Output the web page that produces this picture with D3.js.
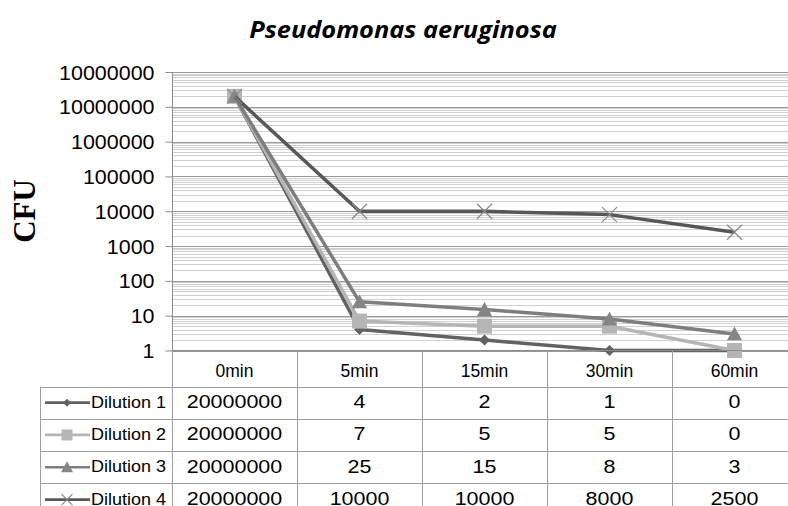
<!DOCTYPE html>
<html>
<head>
<meta charset="utf-8">
<script src="https://cdn.jsdelivr.net/npm/d3@7"></script>
<style>
  html, body { margin: 0; padding: 0; background: #fff; }
  svg { display: block; }
</style>
</head>
<body>
<div id="chart"></div>
<script>
const categories = ['0min', '5min', '15min', '30min', '60min'];
const seriesNames = ['Dilution 1', 'Dilution 2', 'Dilution 3', 'Dilution 4'];
const dilution1 = [20000000, 4, 2, 1, 0];
const dilution2 = [20000000, 7, 5, 5, 0];
const dilution3 = [20000000, 25, 15, 8, 3];
const dilution4 = [20000000, 10000, 10000, 8000, 2500];
const yTickValues = [1, 10, 100, 1000, 10000, 100000, 1000000, 10000000, 100000000];
const yTickLabels = ['1', '10', '100', '1000', '10000', '100000', '1000000', '10000000', '10000000'];

const width = 788, height = 506;
const plot = { left: 172, right: 797, top: 72, bottom: 350.5 };
const rowH = 32.3;
const sansFont = '"Liberation Sans", Arial, sans-serif';

const svg = d3.select('#chart').append('svg')
  .attr('width', width).attr('height', height);

// widen text a bit, the source image is stretched horizontally
const stretch = (sel, k) => sel.each(function() {
  const w = this.getComputedTextLength();
  d3.select(this).attr('textLength', w * k).attr('lengthAdjust', 'spacingAndGlyphs');
});

const x = d3.scaleBand().domain(categories).range([plot.left, plot.right]);
const y = d3.scaleLog().domain([1, 1e8]).range([plot.bottom, plot.top]);

// gridlines
const grid = svg.append('g');
y.ticks().forEach(t => {
  const major = yTickValues.includes(t);
  grid.append('line')
    .attr('x1', plot.left).attr('x2', plot.right)
    .attr('y1', Math.round(y(t)) + 0.5).attr('y2', Math.round(y(t)) + 0.5)
    .attr('stroke', major ? '#9a9a9a' : '#d0d0d0')
    .attr('stroke-width', 1);
});

// y axis
const yAxis = d3.axisLeft(y)
  .tickValues(yTickValues)
  .tickSize(7)
  .tickFormat((d, i) => yTickLabels[i]);

const axisG = svg.append('g')
  .attr('transform', `translate(${plot.left + 0.5},0)`)
  .call(yAxis);
axisG.select('.domain').attr('stroke', '#8c8c8c').attr('d', `M0,${plot.top}V${plot.bottom}`);
axisG.selectAll('.tick line').attr('stroke', '#8c8c8c');
axisG.selectAll('.tick text')
  .attr('x', -18)
  .attr('dy', '0.36em')
  .attr('fill', '#000')
  .style('font-family', sansFont)
  .style('font-size', '19.5px')
  .call(stretch, 1.1);

// title + axis title
svg.append('text')
  .attr('x', 403).attr('y', 38)
  .attr('text-anchor', 'middle')
  .style('font-family', '"Open Sans", sans-serif')
  .style('font-weight', 'bold').style('font-style', 'italic')
  .style('font-size', '23.5px')
  .text('Pseudomonas aeruginosa')
  .call(stretch, 1.08);

svg.append('text')
  .attr('transform', 'translate(35,211) rotate(-90)')
  .attr('text-anchor', 'middle')
  .style('font-family', '"Liberation Serif", "Times New Roman", serif')
  .style('font-weight', 'bold')
  .style('font-size', '31px')
  .text('CFU');

// series
const series = [
  { name: seriesNames[0], values: dilution1, color: '#626262', marker: 'diamond', size: 11, key: 8, mColor: '#626262' },
  { name: seriesNames[1], values: dilution2, color: '#b5b5b5', marker: 'square', size: 15, key: 11, mColor: '#b5b5b5' },
  { name: seriesNames[2], values: dilution3, color: '#7e7e7e', marker: 'triangle', size: 15, key: 12, mColor: '#858585' },
  { name: seriesNames[3], values: dilution4, color: '#575757', marker: 'x', size: 15, key: 11, mColor: '#8a8a8a' },
];

const floorVal = v => Math.max(v, y.domain()[0]);
const line = d3.line()
  .x((d, i) => x(categories[i]) + x.bandwidth() / 2)
  .y(d => y(floorVal(d)));

const drawMarker = (g, type, cx, cy, s, color) => {
  const h = s / 2;
  if (type === 'diamond') {
    g.append('path').attr('d', `M${cx},${cy - h}L${cx + h},${cy}L${cx},${cy + h}L${cx - h},${cy}Z`).attr('fill', color);
  } else if (type === 'square') {
    g.append('rect').attr('x', cx - h).attr('y', cy - h).attr('width', s).attr('height', s).attr('fill', color);
  } else if (type === 'triangle') {
    g.append('path').attr('d', `M${cx},${cy - h}L${cx + h},${cy + h * 0.85}L${cx - h},${cy + h * 0.85}Z`).attr('fill', color);
  } else {
    g.append('path').attr('d', `M${cx - h},${cy - h}L${cx + h},${cy + h}M${cx + h},${cy - h}L${cx - h},${cy + h}`)
      .attr('stroke', color).attr('stroke-width', 1.2).attr('fill', 'none');
  }
};

const linesG = svg.append('g');
series.forEach(s => {
  const g = linesG.append('g');
  g.append('path').datum(s.values).attr('d', line)
    .attr('fill', 'none').attr('stroke', s.color).attr('stroke-width', 3.5)
    .attr('stroke-linejoin', 'round');
  s.values.forEach((v, i) => {
    drawMarker(g, s.marker, x(categories[i]) + x.bandwidth() / 2, y(floorVal(v)), s.size, s.mColor);
  });
});

// data table
const tableG = svg.append('g');
const lineColor = '#a0a0a0';
const tableLeft = 40;
const headerBottom = 386.5;

seriesNames.forEach((n, r) => {
  const yy = Math.round(headerBottom + r * rowH) + 0.5;
  tableG.append('line').attr('x1', tableLeft).attr('x2', width).attr('y1', yy).attr('y2', yy)
    .attr('stroke', lineColor);
});
tableG.append('line').attr('x1', plot.left).attr('x2', width).attr('y1', plot.bottom).attr('y2', plot.bottom)
  .attr('stroke', '#8c8c8c');
categories.forEach(c => {
  const xx = Math.round(x(c)) + 0.5;
  tableG.append('line').attr('x1', xx).attr('x2', xx).attr('y1', plot.bottom).attr('y2', height)
    .attr('stroke', lineColor);
});
tableG.append('line').attr('x1', tableLeft + 0.5).attr('x2', tableLeft + 0.5).attr('y1', headerBottom).attr('y2', height)
  .attr('stroke', lineColor);

// header labels
categories.forEach(c => {
  tableG.append('text')
    .attr('x', x(c) + x.bandwidth() / 2).attr('y', 377)
    .attr('text-anchor', 'middle')
    .style('font-family', sansFont)
    .style('font-size', '17.5px')
    .text(c);
});

// rows
series.forEach((s, r) => {
  const cy = headerBottom + r * rowH + rowH / 2;
  const key = tableG.append('g');
  key.append('line').attr('x1', 45).attr('x2', 90).attr('y1', cy).attr('y2', cy)
    .attr('stroke', s.color).attr('stroke-width', 2.7);
  drawMarker(key, s.marker, 67, cy, s.key, s.mColor);
  tableG.append('text')
    .attr('x', 91).attr('y', cy + 5)
    .style('font-family', sansFont)
    .style('font-size', '16.5px')
    .text(s.name)
    .call(stretch, 1.09);
  s.values.forEach((v, i) => {
    tableG.append('text')
      .attr('x', x(categories[i]) + x.bandwidth() / 2).attr('y', cy + 5.5)
      .attr('text-anchor', 'middle')
      .style('font-family', sansFont)
      .style('font-size', '19px')
      .text(v)
      .call(stretch, 1.13);
  });
});
</script>
</body>
</html>
